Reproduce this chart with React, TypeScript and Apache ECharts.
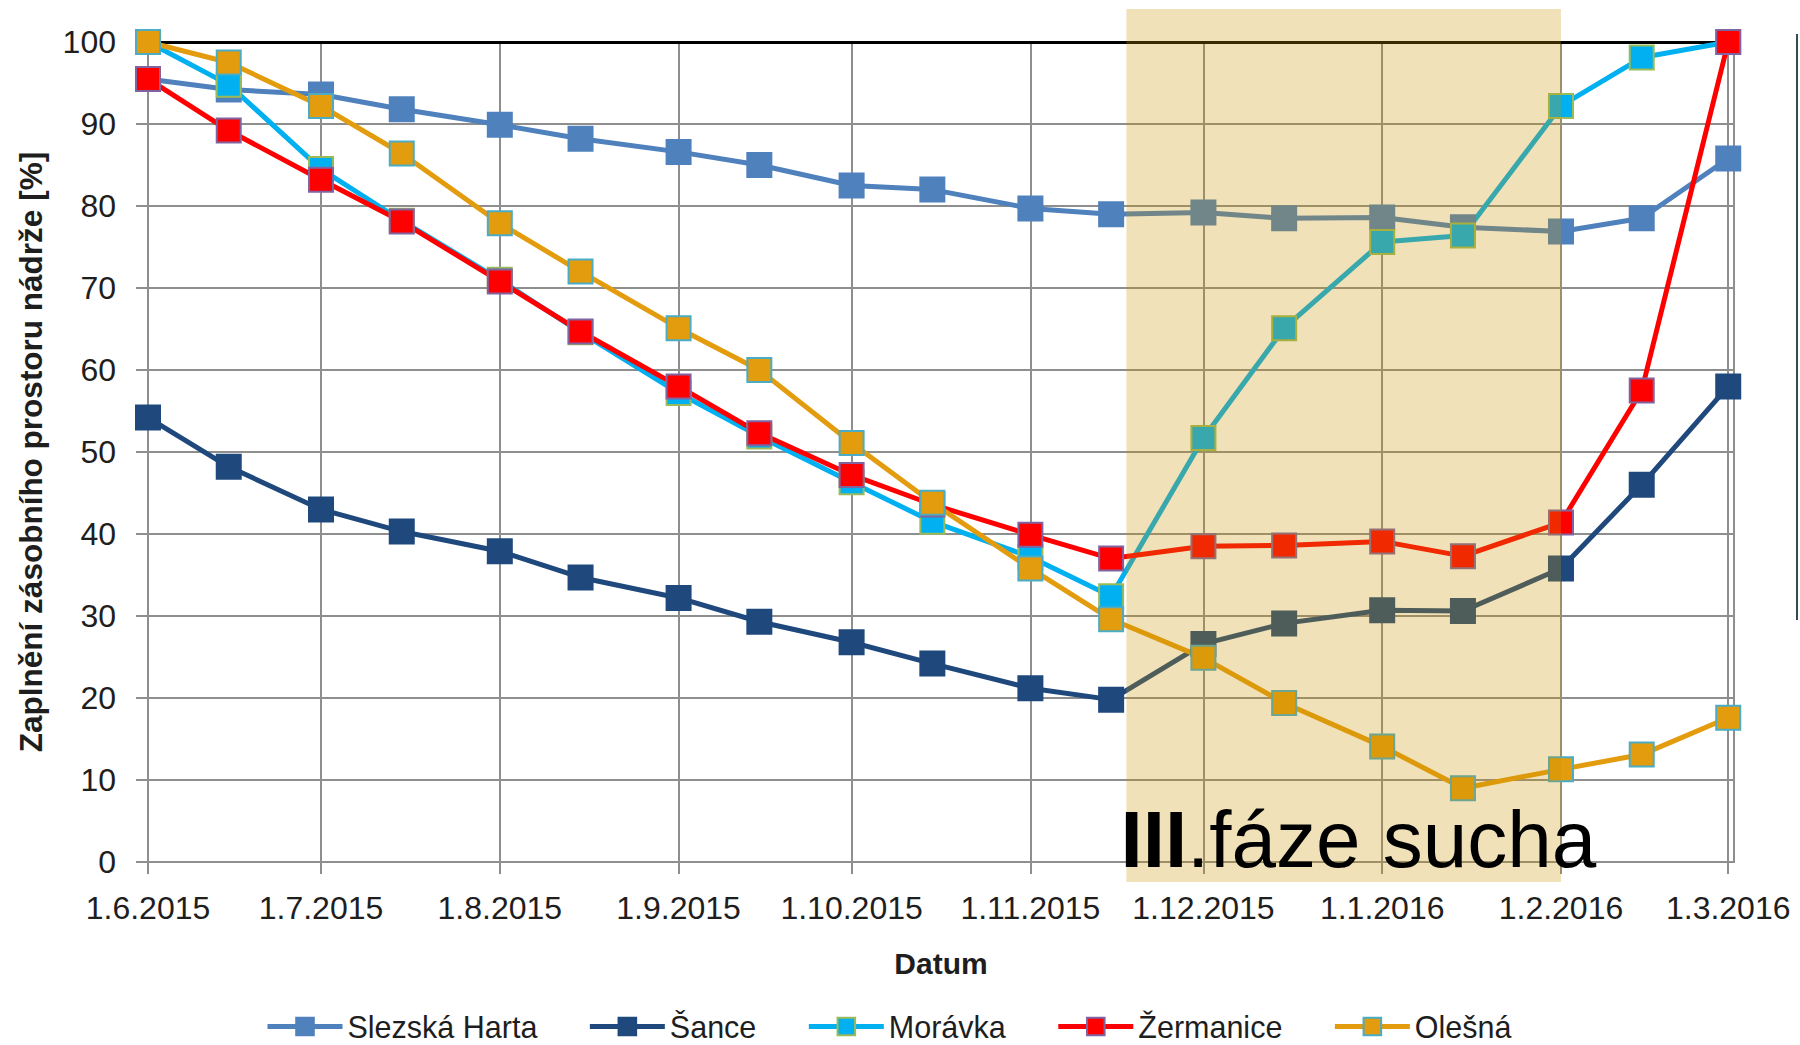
import React, { useEffect, useRef } from 'react';
import * as echarts from 'echarts';

// ---- data ----
const dates = [
  '2015-06-01', '2015-06-15', '2015-07-01', '2015-07-15', '2015-08-01', '2015-08-15',
  '2015-09-01', '2015-09-15', '2015-10-01', '2015-10-15', '2015-11-01', '2015-11-15',
  '2015-12-01', '2015-12-15', '2016-01-01', '2016-01-15', '2016-02-01', '2016-02-15',
  '2016-03-01',
];
const slezskaHarta = [95.5, 94.2, 93.6, 91.8, 89.9, 88.2, 86.6, 85.0, 82.5, 82.0, 79.7, 79.0, 79.2, 78.5, 78.6, 77.4, 76.9, 78.5, 85.8];
const sance = [54.2, 48.2, 43.0, 40.3, 37.9, 34.7, 32.2, 29.3, 26.8, 24.2, 21.2, 19.8, 26.6, 29.1, 30.7, 30.6, 35.8, 46.0, 58.0];
const moravka = [100, 94.8, 84.5, 78.2, 71.0, 64.6, 57.2, 51.9, 46.3, 41.5, 37.2, 32.4, 51.7, 65.1, 75.6, 76.4, 92.2, 98.1, 100];
const zermanice = [95.5, 89.2, 83.2, 78.1, 70.8, 64.7, 58.0, 52.3, 47.2, 43.6, 39.9, 37.0, 38.5, 38.6, 39.1, 37.3, 41.4, 57.5, 100];
const olesna = [100, 97.5, 92.2, 86.4, 77.9, 72.0, 65.1, 60.0, 51.1, 43.8, 35.8, 29.6, 24.9, 19.4, 14.1, 9.0, 11.3, 13.1, 17.6];

const tickDates = [
  '2015-06-01', '2015-07-01', '2015-08-01', '2015-09-01', '2015-10-01',
  '2015-11-01', '2015-12-01', '2016-01-01', '2016-02-01', '2016-03-01',
];
const tickLabels = [
  '1.6.2015', '1.7.2015', '1.8.2015', '1.9.2015', '1.10.2015',
  '1.11.2015', '1.12.2015', '1.1.2016', '1.2.2016', '1.3.2016',
];
const axisStart = '2015-06-01';
const axisEnd = '2016-03-02';
const phaseStart = '2015-11-18';
const phaseEnd = '2016-02-01';
const phaseLabel = 'III';
const phaseLabelRest = '.fáze sucha';

const seriesNames = ['Slezská Harta', 'Šance', 'Morávka', 'Žermanice', 'Olešná'];
const seriesValues = [slezskaHarta, sance, moravka, zermanice, olesna];
const seriesColors = ['#4F81BD', '#1F497D', '#00B0F0', '#FF0000', '#E39C0D'];
const seriesBorders = ['#4F81BD', '#1F497D', '#9BBB59', '#8064A2', '#4BACC6'];

const FONT = '"Liberation Sans", Arial, sans-serif';
const GRID = '#8E8E8E';
const TEXT = '#1E1E1E';

// day number counted from the first date of the axis
const toDay = (s: string) => {
  const [y, m, d] = s.split('-').map(Number);
  const [y0, m0, d0] = axisStart.split('-').map(Number);
  return Math.round((Date.UTC(y, m - 1, d) - Date.UTC(y0, m0 - 1, d0)) / 86400000);
};
const tickDays = tickDates.map(toDay);

export default function App() {
  const ref = useRef<HTMLDivElement>(null);

  useEffect(() => {
    if (!ref.current) return;
    const chart = echarts.init(ref.current, null, { renderer: 'svg' });

    const option: any = {
      animation: false,
      backgroundColor: '#ffffff',
      textStyle: { fontFamily: FONT },
      grid: { left: 148, right: 66, top: 42, bottom: 183 },
      legend: {
        data: seriesNames,
        left: 260,
        top: 1006,
        itemWidth: 75,
        itemHeight: 22,
        itemGap: 50,
        lineStyle: { width: 5 },
        textStyle: { fontSize: 30.5, color: TEXT, fontFamily: FONT },
      },
      xAxis: [
        {
          type: 'value',
          min: toDay(axisStart),
          max: toDay(axisEnd),
          name: 'Datum',
          nameLocation: 'middle',
          nameGap: 86,
          nameTextStyle: { fontSize: 30, fontWeight: 'bold', color: TEXT, fontFamily: FONT },
          axisLine: { show: true, onZero: false, lineStyle: { color: GRID, width: 2 } },
          axisTick: { show: true, length: 12, lineStyle: { color: GRID, width: 2 }, customValues: tickDays },
          axisLabel: {
            customValues: tickDays,
            margin: 30,
            fontSize: 32,
            color: TEXT,
            fontFamily: FONT,
            showMinLabel: true,
            showMaxLabel: true,
            formatter: (v: number) => {
              const i = tickDays.indexOf(Math.round(v));
              return i >= 0 ? tickLabels[i] : '';
            },
          },
          splitLine: { show: true, lineStyle: { color: GRID, width: 2 } },
        },
        {
          type: 'value',
          position: 'top',
          min: toDay(axisStart),
          max: toDay(axisEnd),
          axisLine: { show: true, onZero: false, lineStyle: { color: '#000000', width: 3 } },
          axisTick: { show: false },
          axisLabel: { show: false },
          splitLine: { show: false },
        },
      ],
      yAxis: [
        {
          type: 'value',
          min: 0,
          max: 100,
          interval: 10,
          name: 'Zaplnění zásobního prostoru nádrže [%]',
          nameLocation: 'middle',
          nameGap: 101,
          nameTextStyle: { fontSize: 31.5, fontWeight: 'bold', color: TEXT, fontFamily: FONT },
          axisLine: { show: true, onZero: false, lineStyle: { color: GRID, width: 2 } },
          axisTick: { show: true, length: 12, lineStyle: { color: GRID, width: 2 } },
          axisLabel: { margin: 32, fontSize: 32, color: TEXT, fontFamily: FONT },
          splitLine: { show: true, lineStyle: { color: GRID, width: 2 } },
        },
        {
          type: 'value',
          position: 'right',
          min: 0,
          max: 100,
          axisLine: { show: true, onZero: false, lineStyle: { color: GRID, width: 2 } },
          axisTick: { show: false },
          axisLabel: { show: false },
          splitLine: { show: false },
        },
      ],
      series: seriesNames.map((name, i) => ({
        name,
        type: 'line',
        xAxisIndex: 0,
        yAxisIndex: 0,
        symbol: 'rect',
        symbolSize: 24,
        showSymbol: true,
        data: dates.map((d, j) => [toDay(d), seriesValues[i][j]]),
        lineStyle: { color: seriesColors[i], width: 5 },
        itemStyle: { color: seriesColors[i], borderColor: seriesBorders[i], borderWidth: 2 },
        emphasis: { disabled: true },
      })),
    };

    chart.setOption(option);

    const x0 = chart.convertToPixel({ xAxisIndex: 0 }, toDay(phaseStart)) as number;
    const x1 = chart.convertToPixel({ xAxisIndex: 0 }, toDay(phaseEnd)) as number;
    const yTop = chart.convertToPixel({ yAxisIndex: 0 }, 100) as number;
    const yBot = chart.convertToPixel({ yAxisIndex: 0 }, 0) as number;

    chart.setOption({
      graphic: [
        {
          type: 'rect',
          silent: true,
          z: 100,
          shape: { x: x0 - 2, y: yTop - 33, width: x1 - x0 + 2, height: yBot - yTop + 53 },
          style: { fill: 'rgba(201,147,0,0.28)' },
        },
        {
          type: 'text',
          silent: true,
          z: 101,
          x: x0 - 8,
          y: yBot - 23,
          style: {
            text: `{b|${phaseLabel}}{r|${phaseLabelRest}}`,
            verticalAlign: 'middle',
            align: 'left',
            rich: {
              b: { fontSize: 80, fontWeight: 'bold', fontFamily: FONT, fill: '#000000' },
              r: { fontSize: 80, fontFamily: FONT, fill: '#000000' },
            },
          },
        },
        {
          type: 'line',
          silent: true,
          shape: { x1: 1797, y1: 34, x2: 1797, y2: 620 },
          style: { stroke: '#2F4E54', lineWidth: 2 },
        },
      ],
    });

    return () => chart.dispose();
  }, []);

  return (
    <div
      ref={ref}
      style={{ position: 'fixed', left: 0, top: 0, width: 1800, height: 1045 }}
    />
  );
}
